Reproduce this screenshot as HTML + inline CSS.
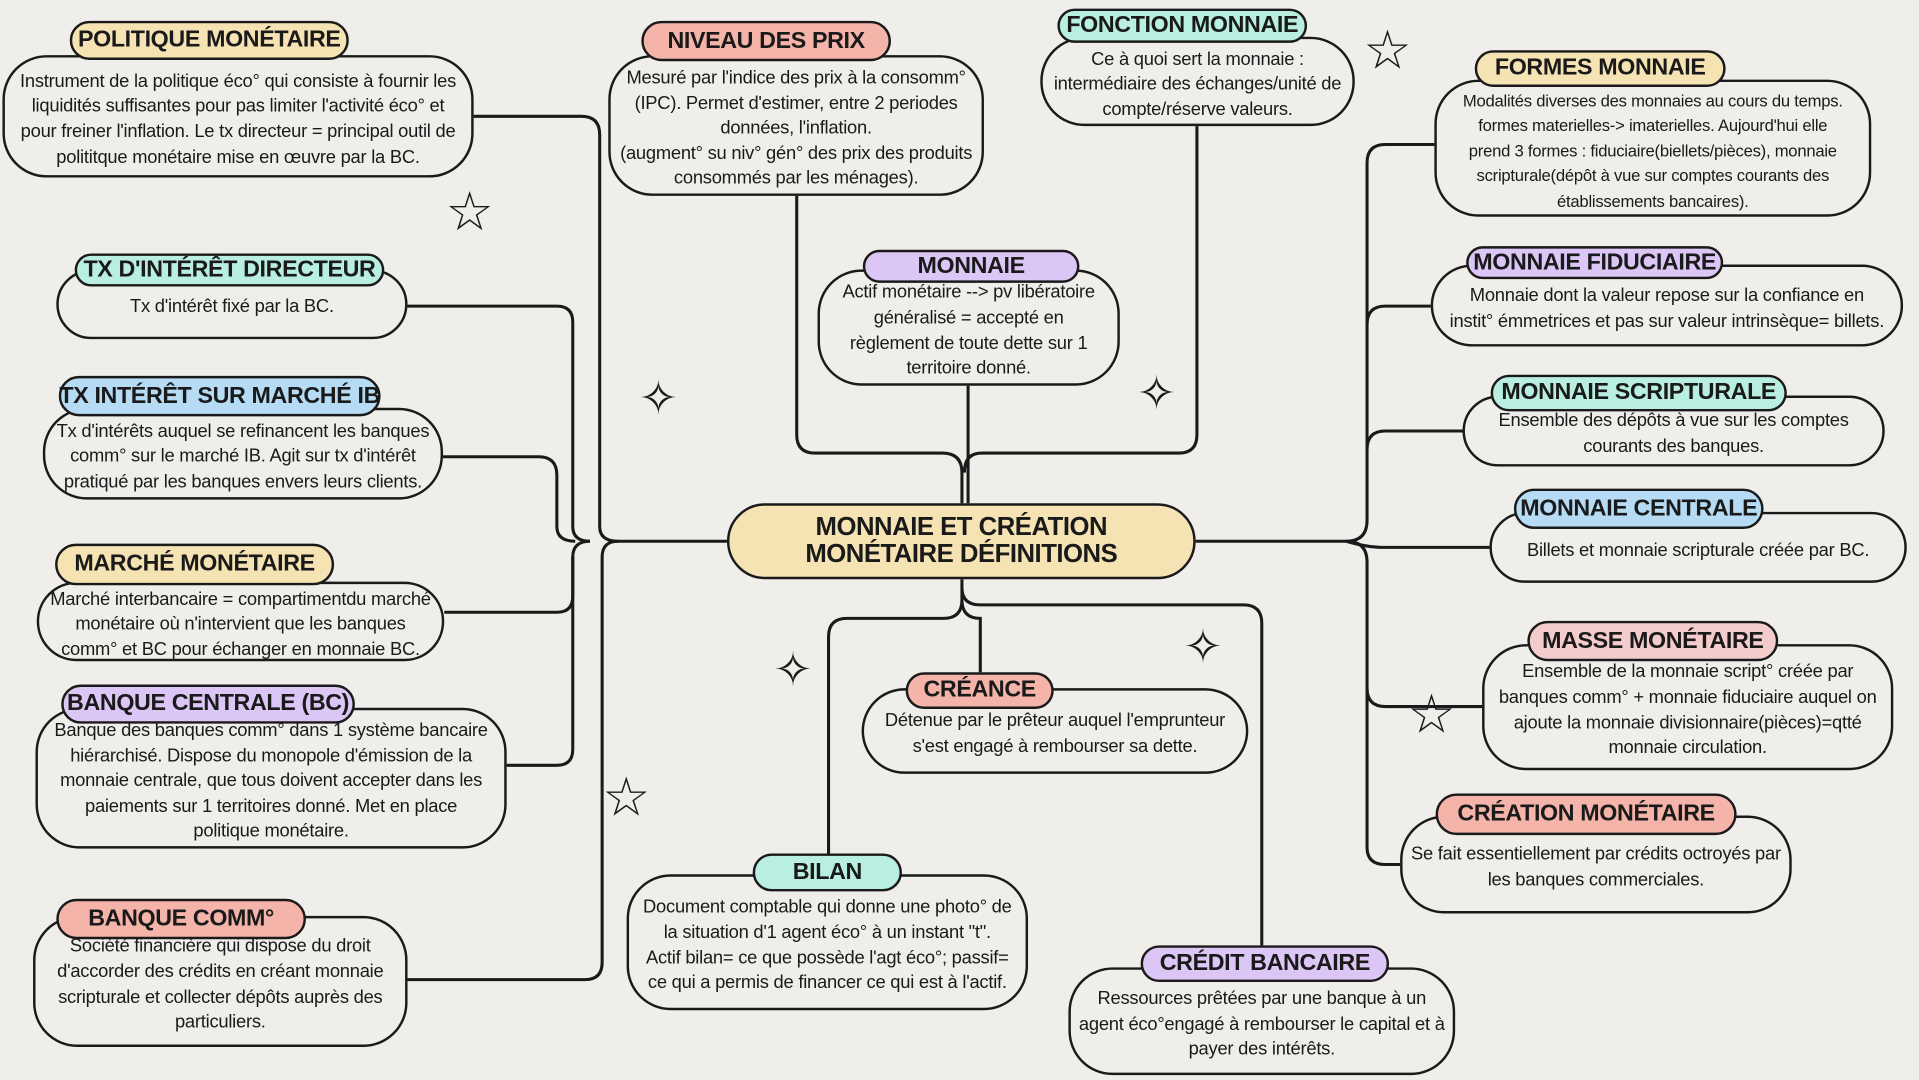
<!DOCTYPE html>
<html><head><meta charset="utf-8"><style>
html,body{margin:0;padding:0;background:#efeeea;width:1919px;height:1080px;overflow:hidden}
#w{position:absolute;left:0;top:0;width:1568px;height:882px;transform:scale(1.22385,1.2245);transform-origin:0 0}
.b{position:absolute;border:2.5px solid #1a1a1a;border-radius:36px;box-sizing:border-box;display:flex;align-items:center;justify-content:center;text-align:center;font-family:"Liberation Sans",sans-serif;font-size:15px;line-height:20.6px;color:#1a1a1a;padding-top:6px;background:#efeeea;white-space:nowrap;letter-spacing:-0.2px}
.p{position:absolute;border:2.5px solid #1a1a1a;border-radius:18px;box-sizing:border-box;display:flex;align-items:center;justify-content:center;font-family:"Liberation Sans",sans-serif;font-weight:bold;font-size:19px;color:#1a1a1a;white-space:nowrap;letter-spacing:-0.3px}
.s{position:absolute;font-family:"DejaVu Sans",sans-serif;color:#1a1a1a;font-size:44px;line-height:1}
svg{position:absolute;left:0;top:0}
</style></head><body><div id="w">
<svg width="1568" height="882" fill="none" stroke="#1a1a1a" stroke-width="2.5">
<path d="M387 95 H475 Q490 95 490 110 V430 Q490 442 505 442 H594"/>
<path d="M333 250 H455 Q468 250 468 263 V430 Q468 442 482 442"/>
<path d="M362 373 H440 Q455 373 455 388 V430 Q455 442 470 442"/>
<path d="M363 500 H455 Q468 500 468 487 V455 Q468 442 482 442"/>
<path d="M414 625 H455 Q468 625 468 612 V455"/>
<path d="M333 800 H478 Q492 800 492 786 V455 Q492 442 505 442"/>
<path d="M651 160 V355 Q651 370 666 370 H770 Q786 370 786 386 V411"/>
<path d="M978 103 V355 Q978 370 963 370 H802 Q788 370 788 386"/>
<path d="M791 315 V411"/>
<path d="M977 442 H1100 Q1117 442 1117 425 V133 Q1117 118 1132 118 H1172"/>
<path d="M1100 442 Q1117 442 1117 459 V692 Q1117 706 1132 706 H1144"/>
<path d="M1117 265 Q1117 250 1132 250 H1169"/>
<path d="M1117 367 Q1117 352 1132 352 H1195"/>
<path d="M1100 442 Q1117 447 1130 447 H1217"/>
<path d="M1117 562 Q1117 577 1132 577 H1211"/>
<path d="M786 473 V490 Q786 505 771 505 H692 Q677 505 677 520 V697"/>
<path d="M786 490 Q786 505 801 505 V549"/>
<path d="M786 480 Q786 494 801 494 H1016 Q1031 494 1031 509 V772"/>
</svg>

<div class="b" style="left:594px;top:411px;width:383px;height:62px;background:#f6e3b4;border-radius:31px;padding:0;font-weight:bold;font-size:21px;line-height:22px;letter-spacing:-0.4px">MONNAIE ET CRÉATION<br>MONÉTAIRE DÉFINITIONS</div>

<div class="b" style="left:2px;top:45px;width:385px;height:100px">Instrument de la politique éco° qui consiste à fournir les<br>liquidités suffisantes pour pas limiter l'activité éco° et<br>pour freiner l'inflation. Le tx directeur = principal outil de<br>polititque monétaire mise en œuvre par la BC.</div>
<div class="p" style="left:57px;top:17px;width:228px;height:32px;background:#f6e3b4">POLITIQUE MONÉTAIRE</div>

<div class="b" style="left:497px;top:45px;width:307px;height:115px">Mesuré par l'indice des prix à la consomm°<br>(IPC). Permet d'estimer, entre 2 periodes<br>données, l'inflation.<br>(augment° su niv° gén° des prix des produits<br>consommés par les ménages).</div>
<div class="p" style="left:524px;top:17px;width:204px;height:33px;background:#f4b4aa">NIVEAU DES PRIX</div>

<div class="b" style="left:850px;top:30px;width:257px;height:73px">Ce à quoi sert la monnaie :<br>intermédiaire des échanges/unité de<br>compte/réserve valeurs.</div>
<div class="p" style="left:864px;top:7px;width:204px;height:28px;background:#b9efe0">FONCTION MONNAIE</div>

<div class="b" style="left:1172px;top:65px;width:357px;height:112px;font-size:13.6px">Modalités diverses des monnaies au cours du temps.<br>formes materielles-&gt; imaterielles. Aujourd'hui elle<br>prend 3 formes : fiduciaire(biellets/pièces), monnaie<br>scripturale(dépôt à vue sur comptes courants des<br>établissements bancaires).</div>
<div class="p" style="left:1205px;top:41px;width:205px;height:30px;background:#f6e3b4">FORMES MONNAIE</div>

<div class="b" style="left:46px;top:220px;width:287px;height:57px">Tx d'intérêt fixé par la BC.</div>
<div class="p" style="left:61px;top:207px;width:253px;height:27px;background:#b9efe0">TX D'INTÉRÊT DIRECTEUR</div>

<div class="b" style="left:668px;top:220px;width:247px;height:95px">Actif monétaire --&gt; pv libératoire<br>généralisé = accepté en<br>règlement de toute dette sur 1<br>territoire donné.</div>
<div class="p" style="left:705px;top:204px;width:177px;height:27px;background:#dcc6f5">MONNAIE</div>

<div class="b" style="left:1169px;top:216px;width:386px;height:67px">Monnaie dont la valeur repose sur la confiance en<br>instit° émmetrices et pas sur valeur intrinsèque= billets.</div>
<div class="p" style="left:1198px;top:201px;width:210px;height:27px;background:#dcc6f5">MONNAIE FIDUCIAIRE</div>

<div class="b" style="left:35px;top:333px;width:327px;height:75px">Tx d'intérêts auquel se refinancent les banques<br>comm° sur le marché IB. Agit sur tx d'intérêt<br>pratiqué par les banques envers leurs clients.</div>
<div class="p" style="left:48px;top:307px;width:263px;height:33px;background:#b6dcf5">TX INTÉRÊT SUR MARCHÉ IB</div>

<div class="b" style="left:1195px;top:323px;width:345px;height:58px">Ensemble des dépôts à vue sur les comptes<br>courants des banques.</div>
<div class="p" style="left:1218px;top:306px;width:242px;height:30px;background:#b9efe0">MONNAIE SCRIPTURALE</div>

<div class="b" style="left:1217px;top:418px;width:341px;height:58px">Billets et monnaie scripturale créée par BC.</div>
<div class="p" style="left:1237px;top:399px;width:204px;height:33px;background:#b6dcf5">MONNAIE CENTRALE</div>

<div class="b" style="left:30px;top:475px;width:333px;height:65px">Marché interbancaire = compartimentdu marché<br>monétaire où n'intervient que les banques<br>comm° et BC pour échanger en monnaie BC.</div>
<div class="p" style="left:45px;top:444px;width:228px;height:34px;background:#f6e3b4">MARCHÉ MONÉTAIRE</div>

<div class="b" style="left:704px;top:562px;width:316px;height:70px">Détenue par le prêteur auquel l'emprunteur<br>s'est engagé à rembourser sa dette.</div>
<div class="p" style="left:740px;top:549px;width:121px;height:30px;background:#f4b4aa">CRÉANCE</div>

<div class="b" style="left:1211px;top:526px;width:336px;height:103px">Ensemble de la monnaie script° créée par<br>banques comm° + monnaie fiduciaire auquel on<br>ajoute la monnaie divisionnaire(pièces)=qtté<br>monnaie circulation.</div>
<div class="p" style="left:1248px;top:507px;width:205px;height:33px;background:#f5cccc">MASSE MONÉTAIRE</div>

<div class="b" style="left:29px;top:578px;width:385px;height:115px">Banque des banques comm° dans 1 système bancaire<br>hiérarchisé. Dispose du monopole d'émission de la<br>monnaie centrale, que tous doivent accepter dans les<br>paiements sur 1 territoires donné. Met en place<br>politique monétaire.</div>
<div class="p" style="left:50px;top:559px;width:240px;height:32px;background:#dcc6f5">BANQUE CENTRALE (BC)</div>

<div class="b" style="left:1144px;top:666px;width:320px;height:80px">Se fait essentiellement par crédits octroyés par<br>les banques commerciales.</div>
<div class="p" style="left:1173px;top:648px;width:246px;height:34px;background:#f4b4aa">CRÉATION MONÉTAIRE</div>

<div class="b" style="left:512px;top:714px;width:328px;height:111px">Document comptable qui donne une photo° de<br>la situation d'1 agent éco° à un instant "t".<br>Actif bilan= ce que possède l'agt éco°; passif=<br>ce qui a permis de financer ce qui est à l'actif.</div>
<div class="p" style="left:615px;top:697px;width:122px;height:31px;background:#b9efe0">BILAN</div>

<div class="b" style="left:27px;top:748px;width:306px;height:107px">Société financière qui dispose du droit<br>d'accorder des crédits en créant monnaie<br>scripturale et collecter dépôts auprès des<br>particuliers.</div>
<div class="p" style="left:46px;top:734px;width:204px;height:33px;background:#f4b4aa">BANQUE COMM°</div>

<div class="b" style="left:873px;top:790px;width:316px;height:88px">Ressources prêtées par une banque à un<br>agent éco°engagé à rembourser le capital et à<br>payer des intérêts.</div>
<div class="p" style="left:932px;top:772px;width:203px;height:30px;background:#dcc6f5">CRÉDIT BANCAIRE</div>

<div class="s" style="left:364px;top:152px">☆</div>
<div class="s" style="left:1114px;top:20px">☆</div>
<div class="s" style="left:492px;top:630px">☆</div>
<div class="s" style="left:1150px;top:562px">☆</div>
<div class="s" style="left:522px;top:306px;font-size:38px">✧</div>
<div class="s" style="left:929px;top:302px;font-size:38px">✧</div>
<div class="s" style="left:632px;top:528px;font-size:38px">✧</div>
<div class="s" style="left:967px;top:509px;font-size:38px">✧</div>
</div></body></html>
